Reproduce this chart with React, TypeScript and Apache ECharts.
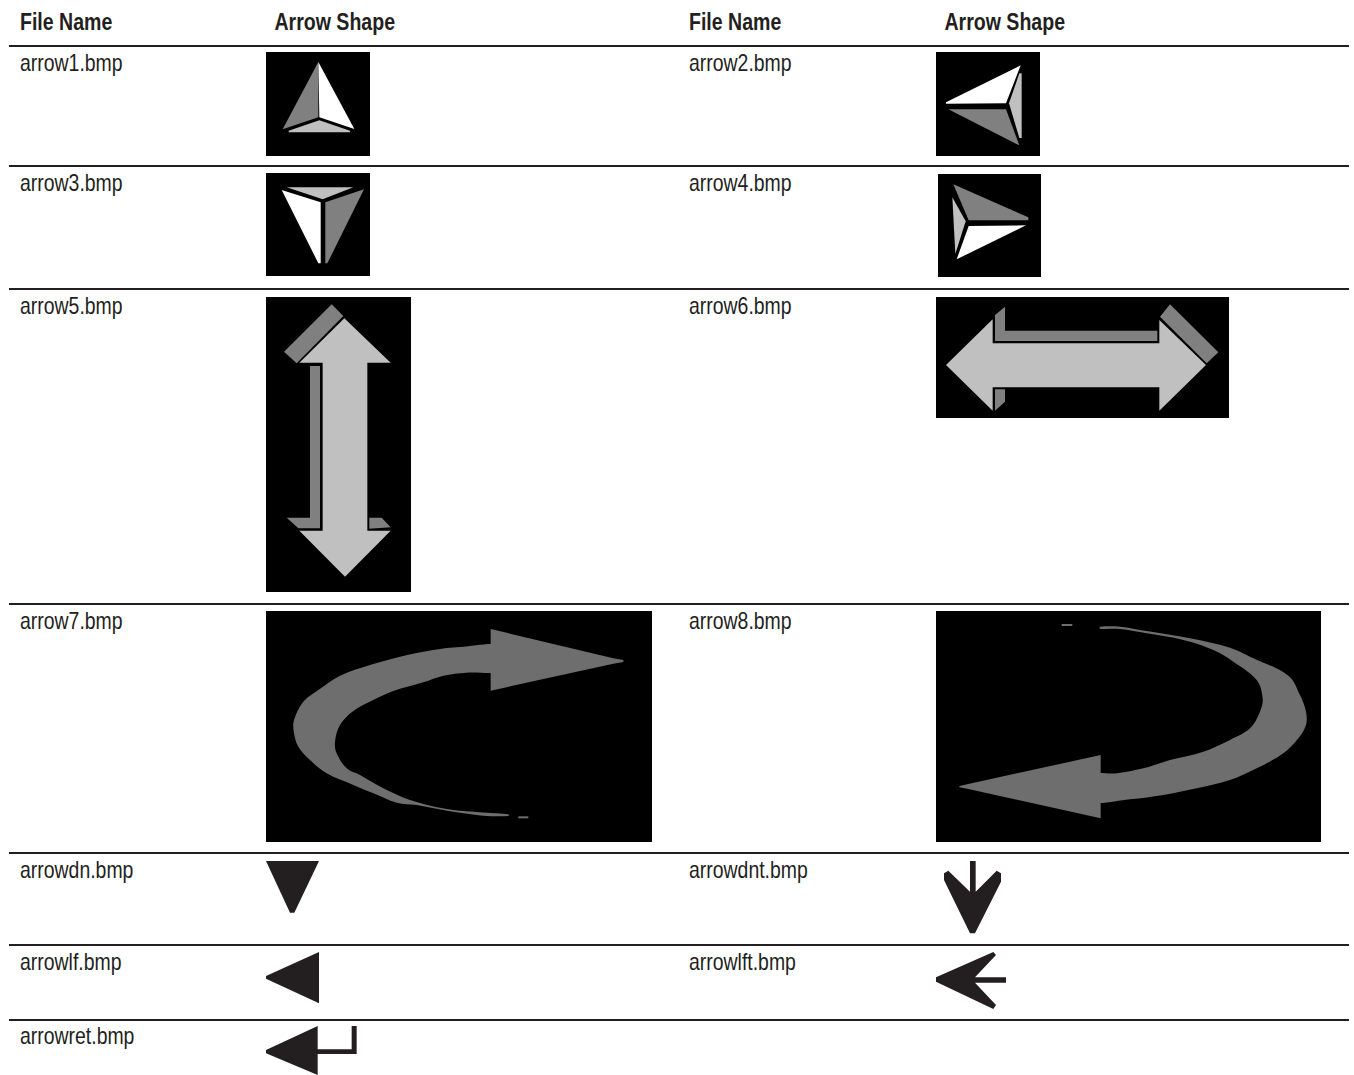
import React, { useEffect, useRef } from "react";
import * as echarts from "echarts";

const INK = "#231f20";
const GRAY = "#808080";
const LIGHT = "#c0c0c0";
const SWEEP = "#6e6e6e";
const FONT = '"Liberation Sans", Arial, sans-serif';

const headerNames = ["File Name", "Arrow Shape", "File Name", "Arrow Shape"];
const headerX = [20, 274.5, 689, 944.5];
const leftFiles = ["arrow1.bmp", "arrow3.bmp", "arrow5.bmp", "arrow7.bmp", "arrowdn.bmp", "arrowlf.bmp", "arrowret.bmp"];
const rightFiles = ["arrow2.bmp", "arrow4.bmp", "arrow6.bmp", "arrow8.bmp", "arrowdnt.bmp", "arrowlft.bmp"];
const fileRowY = [63, 183, 306, 621, 870, 962, 1036];
const ruleY = [46, 166, 289, 604, 853, 945, 1020];

// [left, top, right, bottom] of each black bitmap backdrop
const backdrops = [
  [266, 52, 370, 156],
  [936, 52, 1040, 156],
  [266, 173, 370, 276],
  [938, 174, 1041, 277],
  [266, 297, 411, 592],
  [936, 297, 1229, 418],
  [266, 611, 652, 842],
  [936, 611, 1321, 842],
];

type Shape = { ox: number; oy: number; fill: string; pts: number[][]; smooth?: number };
// Outlines are measured on a 3x crop whose corner is (ox, oy)
const shapes: Shape[] = [
  // arrow1
  { ox: 0, oy: 0, fill: GRAY, pts: [[955, 186], [955, 352], [848, 388]] },
  { ox: 0, oy: 0, fill: "#ffffff", pts: [[955, 186], [1063, 387], [958, 352]] },
  { ox: 0, oy: 0, fill: LIGHT, pts: [[866, 397], [1050, 397], [1050, 392], [958, 361], [866, 392]] },
  // arrow3
  { ox: 0, oy: 0, fill: LIGHT, pts: [[860, 562], [1060, 562], [968, 598]] },
  { ox: 0, oy: 0, fill: "#ffffff", pts: [[845, 570], [962, 607], [962, 790], [955, 790]] },
  { ox: 0, oy: 0, fill: GRAY, pts: [[1092, 568], [976, 607], [976, 790], [982, 790]] },
  // arrow2
  { ox: 920, oy: 40, fill: "#ffffff", pts: [[78, 187], [302, 76], [258, 190], [78, 191]] },
  { ox: 920, oy: 40, fill: GRAY, pts: [[85, 208], [258, 208], [298, 316]] },
  { ox: 920, oy: 40, fill: LIGHT, pts: [[267, 190], [298, 100], [305, 100], [305, 294], [298, 294]] },
  // arrow4
  { ox: 920, oy: 40, fill: GRAY, pts: [[100, 433], [325, 532], [325, 541], [146, 541]] },
  { ox: 920, oy: 40, fill: "#ffffff", pts: [[146, 558], [318, 556], [110, 658]] },
  { ox: 920, oy: 40, fill: LIGHT, pts: [[97, 472], [137, 544], [106, 642]] },
  // arrow5
  { ox: 260, oy: 290, fill: GRAY, pts: [[215, 43], [250, 78], [110, 220], [72, 185]] },
  { ox: 260, oy: 290, fill: GRAY, pts: [[150, 228], [180, 228], [180, 715], [115, 715], [80, 683], [150, 683]] },
  { ox: 260, oy: 290, fill: GRAY, pts: [[328, 683], [365, 683], [392, 712], [328, 716]] },
  { ox: 260, oy: 290, fill: LIGHT, pts: [[253, 85], [392, 218], [322, 218], [322, 722], [392, 722], [255, 860], [118, 722], [188, 722], [188, 218], [118, 218]] },
  // arrow6
  { ox: 930, oy: 290, fill: GRAY, pts: [[195, 75], [225, 50], [225, 122], [682, 122], [682, 153], [195, 153]] },
  { ox: 930, oy: 290, fill: GRAY, pts: [[195, 298], [225, 298], [225, 335], [195, 362]] },
  { ox: 930, oy: 290, fill: GRAY, pts: [[720, 43], [865, 187], [830, 220], [690, 80]] },
  { ox: 930, oy: 290, fill: LIGHT, pts: [[48, 225], [188, 88], [188, 160], [688, 160], [688, 90], [828, 225], [688, 362], [688, 292], [188, 292], [188, 362]] },
  // arrow7 head, body and stray pixel run
  { ox: 260, oy: 605, fill: SWEEP, pts: [[1090, 165], [1090, 171], [1060, 176], [692, 257], [692, 72], [1060, 160]] },
  { ox: 260, oy: 605, fill: SWEEP, smooth: 0.35, pts: [[730, 195], [620, 203], [550, 212], [490, 232], [400, 258], [340, 285], [280, 318], [240, 360], [225, 410], [230, 445], [260, 490], [300, 510], [370, 550], [450, 585], [560, 612], [640, 620], [745, 628], [745, 633], [680, 633], [610, 625], [550, 615], [470, 600], [410, 593], [340, 565], [280, 540], [200, 505], [150, 465], [115, 425], [102, 385], [102, 345], [130, 290], [175, 255], [240, 212], [330, 180], [420, 155], [520, 135], [600, 126], [730, 124]] },
  { ox: 260, oy: 605, fill: SWEEP, pts: [[775, 634], [805, 634], [805, 640], [775, 640]] },
  // arrow8 head, body and stray pixel run
  { ox: 930, oy: 605, fill: SWEEP, pts: [[512, 640], [115, 552], [88, 547], [88, 543], [115, 537], [512, 450]] },
  { ox: 930, oy: 605, fill: SWEEP, smooth: 0.35, pts: [[510, 65], [570, 65], [650, 78], [780, 100], [900, 128], [960, 155], [1075, 212], [1110, 270], [1128, 320], [1128, 360], [1105, 400], [1060, 445], [980, 490], [900, 525], [800, 550], [700, 570], [600, 583], [480, 588], [480, 512], [560, 505], [640, 490], [720, 465], [820, 440], [900, 405], [960, 370], [990, 320], [998, 280], [980, 225], [910, 170], [850, 135], [760, 105], [650, 85], [570, 72], [510, 71]] },
  { ox: 930, oy: 605, fill: SWEEP, pts: [[395, 57], [427, 57], [427, 63], [395, 63]] },
  // arrowdn
  { ox: 255, oy: 850, fill: INK, pts: [[33, 33], [192, 33], [118, 188], [105, 188]] },
  // arrowlf
  { ox: 255, oy: 850, fill: INK, pts: [[192, 306], [192, 460], [33, 386], [33, 378]] },
  // arrowret
  { ox: 255, oy: 850, fill: INK, pts: [[188, 528], [188, 598], [290, 598], [290, 528], [305, 528], [305, 612], [188, 612], [188, 675], [33, 610], [33, 600]] },
  // arrowdnt
  { ox: 925, oy: 850, fill: INK, pts: [[135, 33], [152, 33], [152, 125], [215, 62], [228, 70], [228, 95], [150, 250], [135, 250], [57, 90], [57, 70], [70, 62], [135, 125]] },
  // arrowlft
  { ox: 925, oy: 850, fill: INK, pts: [[205, 306], [213, 315], [150, 382], [243, 382], [243, 398], [150, 398], [213, 465], [205, 477], [33, 395], [33, 382]] },
];

// The page's face is a narrow sans; only the regular width is installed, so it is condensed.
const text = (content: string, x: number, y: number, bold: boolean) => ({
  type: "text",
  x,
  y,
  scaleX: bold ? 0.85 : 0.845,
  silent: true,
  style: {
    text: content,
    fill: INK,
    fontFamily: FONT,
    fontSize: 23,
    fontWeight: bold ? "bold" : "normal",
    align: "left",
    verticalAlign: "middle",
  },
});

export default function App() {
  const ref = useRef<HTMLDivElement>(null);
  useEffect(() => {
    document.body.style.margin = "0";
    const chart = echarts.init(ref.current!, null, { renderer: "svg" });
    const elements: any[] = [];
    headerNames.forEach((h, i) => elements.push(text(h, headerX[i], 22, true)));
    leftFiles.forEach((f, i) => elements.push(text(f, headerX[0], fileRowY[i], false)));
    rightFiles.forEach((f, i) => elements.push(text(f, headerX[2], fileRowY[i], false)));
    ruleY.forEach((y) =>
      elements.push({
        type: "rect",
        silent: true,
        shape: { x: 9, y: y - 1, width: 1340, height: 2 },
        style: { fill: INK },
      })
    );
    backdrops.forEach(([l, t, r, b]) =>
      elements.push({
        type: "rect",
        silent: true,
        shape: { x: l, y: t, width: r - l, height: b - t },
        style: { fill: "#000000" },
      })
    );
    shapes.forEach((s) =>
      elements.push({
        type: "polygon",
        silent: true,
        shape: {
          points: s.pts.map(([x, y]) => [s.ox + x / 3, s.oy + y / 3]),
          smooth: s.smooth ?? 0,
        },
        style: { fill: s.fill },
      })
    );
    chart.setOption({ animation: false, backgroundColor: "#ffffff", graphic: { elements } });
    return () => chart.dispose();
  }, []);
  return <div ref={ref} style={{ width: 1354, height: 1075 }} />;
}
